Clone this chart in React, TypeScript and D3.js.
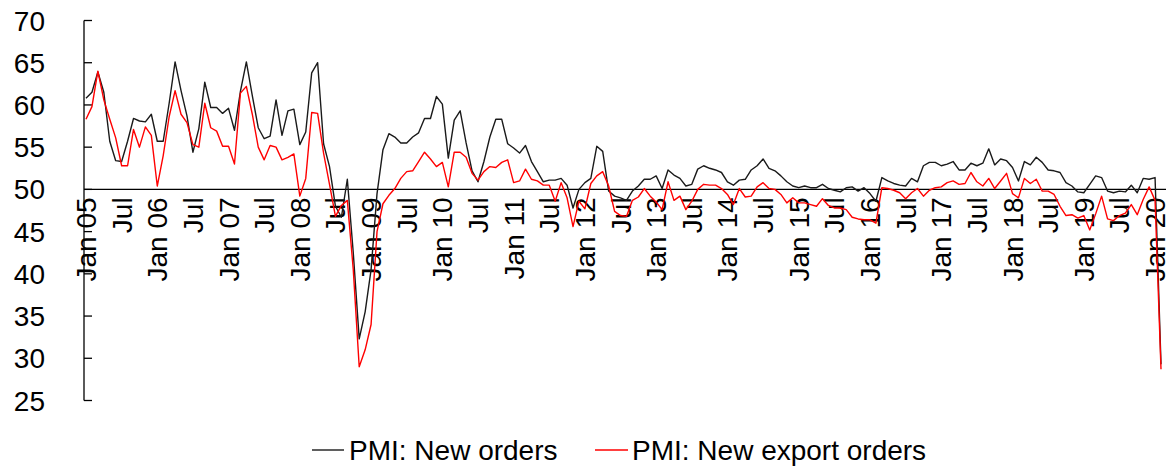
import React from "react";
import * as d3 from "d3";

const newOrders: number[] = [
  60.8, 61.5, 63.9, 61.5, 55.7, 53.4, 53.3, 55.7, 58.4, 58.1, 58.0, 58.9,
  55.7, 55.7, 60.2, 65.1, 61.7, 58.7, 54.4, 57.2, 62.7, 59.7, 59.7, 59.0,
  59.6, 57.0, 61.6, 65.1, 61.1, 57.3, 56.0, 56.3, 60.6, 56.4, 59.3, 59.5,
  55.3, 56.8, 63.8, 65.0, 55.4, 52.7, 48.0, 46.7, 51.2, 42.5, 32.3, 35.5,
  40.5, 49.5, 54.7, 56.6, 56.2, 55.5, 55.5, 56.2, 56.7, 58.4, 58.4, 61.0,
  60.1, 53.7, 58.2, 59.3, 55.5, 52.2, 50.9, 53.3, 56.2, 58.3, 58.3, 55.4,
  54.9, 54.3, 55.2, 53.3, 52.1, 50.9, 51.1, 51.1, 51.3, 50.5, 47.8, 50.0,
  50.8, 51.3, 55.1, 54.5, 49.8, 49.2, 49.0, 48.7, 49.8, 50.4, 51.2, 51.2,
  51.6, 50.1, 52.3, 51.7, 51.3, 50.4, 50.6, 52.4, 52.8, 52.5, 52.3, 52.0,
  50.9, 50.5, 51.1, 51.2, 52.3, 52.8, 53.6, 52.5, 52.2, 51.6, 50.9, 50.4,
  50.2, 50.4, 50.2, 50.2, 50.6, 50.1, 49.9, 49.7, 50.2, 50.3, 49.8, 50.2,
  49.5, 48.6, 51.4, 51.0, 50.7, 50.5, 50.4, 51.3, 50.9, 52.8, 53.2, 53.2,
  52.8, 53.0, 53.3, 52.3, 52.3, 53.1, 52.8, 53.1, 54.8, 52.9, 53.6, 53.4,
  52.6, 51.0, 53.3, 52.9, 53.8, 53.2, 52.3, 52.2, 52.0, 50.8, 50.4, 49.7,
  49.6, 50.6, 51.6, 51.4, 49.8, 49.6, 49.8, 49.7, 50.5, 49.6, 51.3, 51.2,
  51.4, 29.3,
];

const newExportOrders: number[] = [
  58.3, 59.8, 64.0, 60.6, 58.3, 56.1, 52.8, 52.8, 57.1, 55.0, 57.4, 56.4,
  50.4, 54.0, 58.6, 61.7, 58.9, 57.9, 55.3, 55.0, 60.2, 57.3, 56.9, 55.1,
  55.1, 53.0, 61.4, 62.2, 58.9, 55.0, 53.5, 55.2, 55.0, 53.5, 53.8, 54.2,
  49.2, 51.3, 59.1, 59.0, 54.3, 50.6, 46.8, 48.1, 48.7, 40.5, 29.0, 31.0,
  34.0, 45.0, 48.3, 49.3, 50.1, 51.3, 52.1, 52.2, 53.3, 54.4, 53.6, 52.7,
  53.2, 50.3, 54.4, 54.4, 53.8, 51.9, 51.1, 52.1, 52.7, 52.6, 53.2, 53.5,
  50.8, 51.0, 52.4, 51.2, 51.0, 50.5, 50.5, 48.6, 50.8, 49.0, 45.6, 48.6,
  47.7, 50.7, 51.6, 52.1, 50.4, 47.4, 46.9, 46.8, 48.7, 49.1, 50.1, 49.2,
  48.5, 47.6, 50.9, 48.7, 49.2, 47.6, 48.6, 50.0, 50.6, 50.5, 50.5, 50.1,
  49.4, 48.2, 50.1, 49.1, 49.2, 50.3, 50.8, 50.1, 50.0, 49.4, 48.4, 49.0,
  48.4, 48.4, 48.2, 48.0, 48.9, 48.1, 47.8, 47.8, 47.6, 46.7, 46.5, 46.4,
  46.4, 46.0, 50.2, 50.1, 49.9, 49.6, 48.9, 49.6, 50.1, 49.2, 49.9, 50.2,
  50.3, 50.8, 51.0, 50.6, 50.7, 52.0, 50.9, 50.4, 51.3, 50.1, 51.0, 51.9,
  49.5, 49.0, 51.3, 50.7, 51.2, 49.8, 49.8, 49.4, 48.0, 46.9, 47.0, 46.6,
  46.9, 45.2, 47.1, 49.2, 46.5, 46.3, 46.9, 47.2, 48.2, 47.0, 48.8, 50.3,
  48.7, 28.7,
];

const xTickLabels: string[] = [
  "Jan 05", "Jul", "Jan 06", "Jul", "Jan 07", "Jul", "Jan 08", "Jul",
  "Jan 09", "Jul", "Jan 10", "Jul", "Jan 11", "Jul", "Jan 12", "Jul",
  "Jan 13", "Jul", "Jan 14", "Jul", "Jan 15", "Jul", "Jan 16", "Jul",
  "Jan 17", "Jul", "Jan 18", "Jul", "Jan 19", "Jul", "Jan 20",
];

const yTicks: number[] = [25, 30, 35, 40, 45, 50, 55, 60, 65, 70];

const seriesNames: string[] = ["PMI: New orders", "PMI: New export orders"];
const seriesColors: string[] = ["#1a1a1a", "#ff0000"];

const W = 1167;
const H = 469;
const FONT = "'Liberation Sans', Arial, sans-serif";

export default function App() {
  const n = newOrders.length;
  const x = d3.scaleLinear().domain([0, n - 1]).range([86, 1161]);
  const y = d3.scaleLinear().domain([25, 70]).range([400.5, 20.5]);
  const axisX = 84;
  const line = d3
    .line<number>()
    .x((_, i) => x(i))
    .y((d) => y(d));

  const series = [newOrders, newExportOrders];

  return (
    <svg
      width={W}
      height={H}
      style={{ position: "absolute", left: 0, top: 0, background: "#fff" }}
      fontFamily={FONT}
    >
      {/* y axis */}
      <line x1={axisX} x2={axisX} y1={y(70)} y2={y(25)} stroke="#000" strokeWidth={1.3} />
      {yTicks.map((t) => (
        <g key={t}>
          <line x1={axisX} x2={axisX + 8} y1={y(t)} y2={y(t)} stroke="#000" strokeWidth={1.3} />
          <text x={45} y={y(t)} dy="0.36em" textAnchor="end" fontSize={28} fill="#000">
            {t}
          </text>
        </g>
      ))}
      {/* 50 line (x axis) */}
      <line x1={axisX} x2={1166} y1={y(50)} y2={y(50)} stroke="#000" strokeWidth={1.3} />
      {/* x tick labels */}
      {xTickLabels.map((lab, k) => {
        const xi = x(k * 6);
        return (
          <text
            key={k}
            transform={`translate(${xi + 10},${y(50) + 8}) rotate(-90)`}
            textAnchor="end"
            fontSize={28}
            fill="#000"
          >
            {lab}
          </text>
        );
      })}
      {/* series */}
      {series.map((s, si) => (
        <path
          key={si}
          d={line(s) || ""}
          fill="none"
          stroke={seriesColors[si]}
          strokeWidth={1.4}
          strokeLinejoin="round"
        />
      ))}
      {/* legend */}
      <g>
        <line x1={312} x2={344} y1={450} y2={450} stroke={seriesColors[0]} strokeWidth={1.4} />
        <text x={349} y={450} dy="0.36em" fontSize={28} fill="#000">
          {seriesNames[0]}
        </text>
        <line x1={595} x2={628} y1={450} y2={450} stroke={seriesColors[1]} strokeWidth={1.4} />
        <text x={632} y={450} dy="0.36em" fontSize={28} fill="#000">
          {seriesNames[1]}
        </text>
      </g>
    </svg>
  );
}
